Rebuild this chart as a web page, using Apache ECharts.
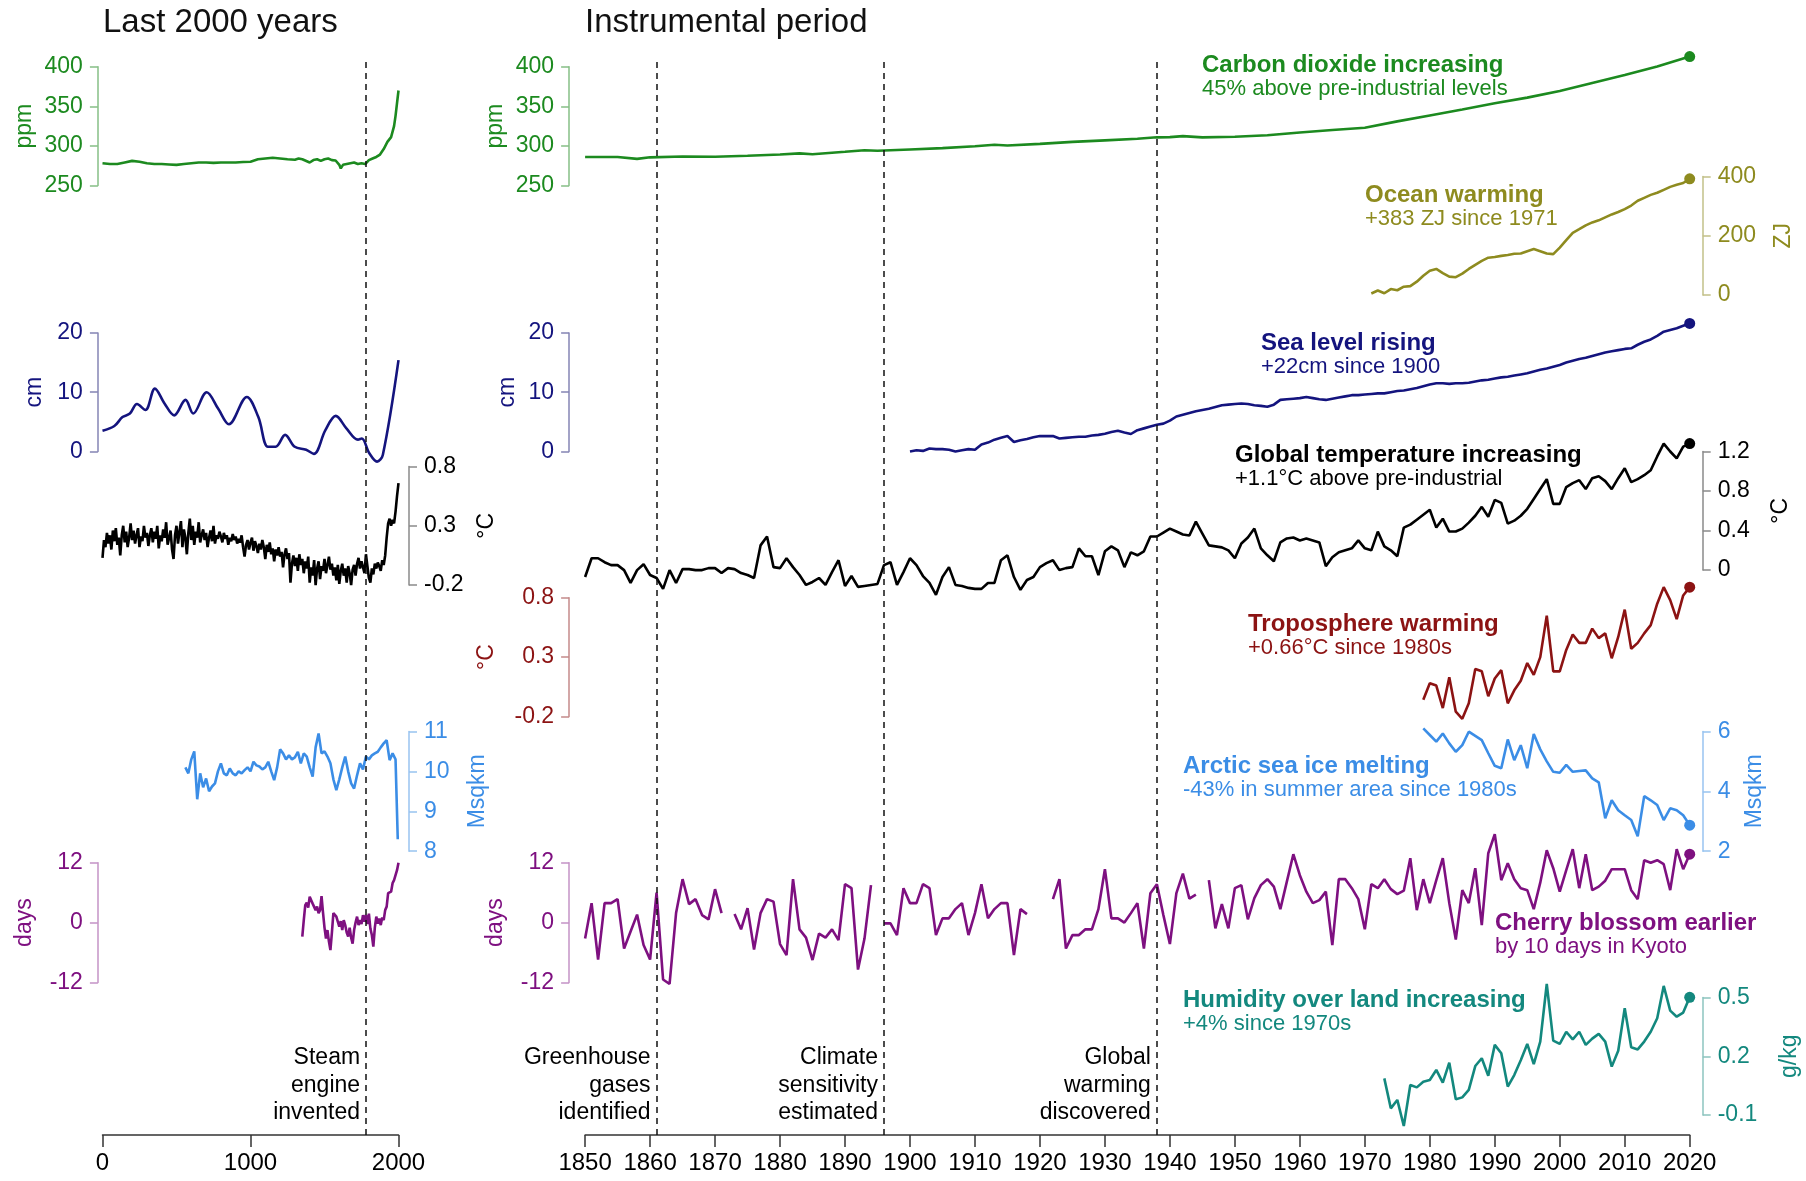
<!DOCTYPE html>
<html>
<head>
<meta charset="utf-8">
<title>Changing climate indicators</title>
<script src="https://cdn.jsdelivr.net/npm/echarts@6/dist/echarts.min.js"></script>
<style>
  html, body { margin: 0; padding: 0; background: #fff; }
  #chart { width: 1806px; height: 1181px; }
</style>
</head>
<body>
<div id="chart"></div>
<script>
// ---- data: last 2000 years (year, value pairs) ----
const co2LongYears = [0, 50, 100, 150, 200, 250, 300, 350, 400, 450, 500, 550, 600, 650, 700, 750, 800, 850, 900, 950, 1000, 1050, 1100, 1150, 1200, 1250, 1300, 1325, 1350, 1400, 1425, 1450, 1475, 1500, 1525, 1550, 1575, 1600, 1610, 1625, 1650, 1700, 1725, 1750, 1775, 1800, 1825, 1850, 1875, 1900, 1925, 1950, 1970, 1980, 1990, 2000];
const co2LongVals = [278, 277, 277, 279, 281, 280, 278, 277, 277, 276.5, 276, 277, 278, 279, 279, 278.5, 279, 279, 279, 279.5, 280, 283, 284, 285, 284, 283, 282.5, 284, 283, 279, 282, 283, 281, 283, 284, 282, 281.5, 276, 271.5, 276, 277, 279, 277, 278, 277, 282, 284, 286, 289, 296, 305, 311, 325, 338, 354, 370];

const seaLongYears = [0, 80, 135, 185, 233, 290, 354, 419, 484, 561, 613, 704, 782, 854, 975, 1053, 1118, 1170, 1234, 1299, 1376, 1428, 1506, 1576, 1648, 1726, 1752, 1803, 1855, 1894, 2000];
const seaLongVals = [3.5, 4.3, 5.8, 6.4, 8.0, 7.0, 10.6, 8.1, 6.1, 8.7, 6.4, 10.0, 7.2, 4.6, 9.2, 5.8, 0.8, 0.8, 2.8, 0.8, 0.3, -0.4, 3.6, 6.0, 3.9, 2.0, 2.2, -0.3, -1.7, -0.6, 15.4];

// temperature every 10 years from year 0 to 2000
const tempLongStep = 10;
const tempLongVals = [
  0.03, 0.18, 0.12, 0.24, 0.15, 0.22, 0.10, 0.26, 0.17, 0.28,
  0.14, 0.20, 0.05, 0.22, 0.30, 0.16, 0.25, 0.12, 0.20, 0.32,
  0.18, 0.26, 0.15, 0.22, 0.28, 0.12, 0.21, 0.17, 0.30, 0.20,
  0.24, 0.13, 0.22, 0.28, 0.16, 0.25, 0.19, 0.30, 0.11, 0.22,
  0.17, 0.27, 0.20, 0.33, 0.14, 0.20, 0.26, 0.10, 0.02, 0.22,
  0.30, 0.15, 0.25, 0.34, 0.12, 0.27, 0.20, 0.06, 0.24, 0.36,
  0.18, 0.30, 0.14, 0.25, 0.20, 0.33, 0.16, 0.22, 0.27, 0.18,
  0.24, 0.12, 0.20, 0.26, 0.17, 0.30, 0.15, 0.22, 0.19, 0.25,
  0.21, 0.16, 0.24, 0.19, 0.22, 0.14, 0.20, 0.17, 0.23, 0.18,
  0.21, 0.15, 0.19, 0.16, 0.22, 0.12, 0.04, 0.14, 0.18, 0.10,
  0.16, 0.20, 0.09, 0.17, 0.13, 0.07, 0.15, 0.10, 0.18, 0.12,
  0.02, 0.14, 0.08, 0.16, 0.06, 0.11, 0.00, 0.10, 0.05, 0.12,
  0.04, 0.08, -0.05, 0.06, 0.11, 0.02, 0.07, -0.18, -0.02, 0.05,
  -0.04, 0.03, -0.08, 0.06, -0.03, 0.02, -0.10, 0.00, -0.06, 0.04,
  -0.18, -0.05, -0.12, 0.01, -0.20, -0.06, 0.00, -0.15, -0.04, -0.08,
  0.02, -0.10, -0.03, 0.04, -0.07, -0.02, -0.12, -0.05, -0.16, -0.03,
  -0.19, -0.08, -0.02, -0.12, -0.06, -0.18, -0.04, -0.10, -0.20, -0.07,
  -0.03, -0.12, -0.02, 0.03, -0.06, 0.00, -0.05, -0.10, 0.06, -0.04,
  -0.14, -0.18, -0.06, -0.11, -0.02, -0.06, -0.01, -0.04, -0.08, 0.01,
  -0.03, 0.05, 0.20, 0.32, 0.36, 0.30, 0.35, 0.32, 0.42, 0.55,
  0.66
];

const iceLongYears = [560, 580, 600, 620, 640, 660, 680, 700, 720, 740, 760, 780, 800, 820, 840, 860, 880, 900, 920, 940, 960, 980, 1000, 1020, 1040, 1060, 1080, 1100, 1120, 1140, 1160, 1180, 1200, 1220, 1240, 1260, 1280, 1300, 1320, 1340, 1360, 1380, 1400, 1420, 1440, 1460, 1480, 1500, 1520, 1540, 1560, 1580, 1600, 1620, 1640, 1660, 1680, 1700, 1720, 1740, 1760, 1780, 1800, 1820, 1840, 1860, 1880, 1900, 1920, 1940, 1960, 1980, 1995];
const iceLongVals = [10.1, 9.95, 10.3, 10.5, 9.3, 9.95, 9.6, 9.82, 9.5, 9.62, 9.7, 10.0, 10.2, 9.95, 9.9, 10.07, 9.95, 9.9, 10.0, 9.95, 10.03, 10.1, 10.0, 10.24, 10.15, 10.12, 10.05, 10.1, 10.24, 10.0, 9.78, 10.1, 10.55, 10.45, 10.3, 10.4, 10.3, 10.35, 10.49, 10.2, 10.45, 10.37, 10.1, 9.87, 10.6, 10.95, 10.45, 10.5, 10.37, 10.2, 9.8, 9.53, 9.8, 10.1, 10.37, 10.0, 9.7, 9.57, 9.9, 10.2, 10.05, 10.37, 10.3, 10.4, 10.45, 10.49, 10.6, 10.7, 10.78, 10.28, 10.45, 10.3, 8.3];

const cherryLongYears = [1350, 1360, 1370, 1380, 1390, 1400, 1410, 1420, 1430, 1440, 1450, 1460, 1470, 1480, 1490, 1500, 1510, 1520, 1530, 1540, 1550, 1560, 1570, 1580, 1590, 1600, 1610, 1620, 1630, 1640, 1650, 1660, 1670, 1680, 1690, 1700, 1710, 1720, 1730, 1740, 1750, 1760, 1770, 1780, 1790, 1800, 1810, 1820, 1830, 1840, 1850, 1860, 1870, 1880, 1890, 1900, 1910, 1920, 1930, 1940, 1950, 1960, 1970, 1980, 1990, 2000];
const cherryLongVals = [-2.8, 0.5, 3.5, 4.0, 3.0, 5.2, 4.5, 3.8, 4.2, 2.5, 3.2, 1.9, 2.5, 5.3, 2.0, -1.0, -3.2, -1.5, -3.8, -5.5, -2.0, 1.9, 1.5, 1.2, 0.2, -0.8, 0.3, -1.5, 0.5, -0.5, -2.0, -2.8, -1.0, -3.0, -4.2, -1.5, 0.0, 1.2, -0.5, 0.5, -0.3, 1.5, 0.2, 1.5, -0.3, 1.8, -1.2, -2.5, -4.8, -1.0, 1.2, -0.2, 0.8, -0.5, 1.0, 0.5, 2.5, 3.2, 5.9, 5.5, 6.2, 7.9, 8.5, 9.5, 10.5, 12.0];

// ---- data: instrumental period ----
const co2Years = [1850, 1855, 1858, 1860, 1865, 1870, 1875, 1880, 1883, 1885, 1890, 1893, 1895, 1900, 1905, 1910, 1913, 1915, 1920, 1925, 1930, 1935, 1938, 1940, 1942, 1945, 1950, 1955, 1960, 1965, 1970, 1975, 1980, 1985, 1990, 1995, 2000, 2005, 2010, 2015, 2020];
const co2Vals = [286, 285.9, 283.6, 285.5, 286.5, 286.2, 287.5, 289, 290.5, 289.3, 292.5, 294.5, 293.8, 295.5, 297.2, 299.5, 301.5, 300.5, 302.5, 305, 307, 309, 310.8, 311, 312.3, 310.8, 311.5, 313.5, 317, 320, 323, 331, 338.5, 346, 354, 361, 369.5, 379.5, 389.5, 400.5, 413];

const oceanStart = 1971;
const oceanVals = [
  5, 15, 6, 20, 16, 28, 30, 45, 65,
  82, 88, 74, 62, 60, 72, 88, 102, 115, 126,
  128, 132, 135, 139, 140, 148, 155, 148, 140, 138,
  160, 185, 210, 222, 235, 245, 252, 262, 272, 280,
  290, 302, 318, 328, 338, 345, 355, 365, 372, 378,
  392
];

const seaStart = 1900;
const seaVals = [
  0.0, 0.2, 0.1, 0.5, 0.4, 0.4, 0.3, 0.0, 0.2, 0.4,
  0.3, 1.2, 1.5, 2.0, 2.3, 2.6, 1.6, 1.9, 2.1, 2.4,
  2.6, 2.6, 2.6, 2.2, 2.3, 2.4, 2.5, 2.5, 2.7, 2.8,
  3.0, 3.3, 3.5, 3.2, 2.95, 3.6, 3.9, 4.2, 4.5, 4.7,
  5.2, 5.9, 6.2, 6.5, 6.8, 7.0, 7.2, 7.5, 7.8, 7.9,
  8.0, 8.1, 8.0, 7.8, 7.7, 7.55, 7.9, 8.7, 8.8, 8.9,
  9.0, 9.2, 9.0, 8.8, 8.7, 8.9, 9.1, 9.3, 9.5, 9.5,
  9.6, 9.7, 9.8, 9.8, 10.0, 10.2, 10.3, 10.5, 10.7, 11.0,
  11.3, 11.5, 11.5, 11.4, 11.5, 11.5, 11.6, 11.8, 12.0, 12.1,
  12.3, 12.5, 12.6, 12.8, 13.0, 13.2, 13.5, 13.8, 14.0, 14.3,
  14.6, 15.0, 15.3, 15.6, 15.8, 16.1, 16.4, 16.7, 16.9, 17.1,
  17.3, 17.4, 18.0, 18.5, 18.9, 19.5, 20.2, 20.5, 20.8, 21.2,
  21.6
];

const tempStart = 1850;
const tempVals = [
  -0.07, 0.12, 0.12, 0.08, 0.05, 0.05, 0.00, -0.13, 0.00, 0.06,
  -0.05, -0.08, -0.19, 0.00, -0.13, 0.01, 0.01, 0.00, 0.00, 0.02,
  0.02, -0.03, 0.02, 0.01, -0.03, -0.05, -0.08, 0.25, 0.34, 0.03,
  0.02, 0.12, 0.03, -0.05, -0.15, -0.12, -0.08, -0.15, -0.02, 0.10,
  -0.16, -0.06, -0.17, -0.16, -0.15, -0.14, 0.05, 0.08, -0.15, -0.02,
  0.12, 0.05, -0.06, -0.13, -0.25, -0.07, 0.03, -0.15, -0.16, -0.18,
  -0.19, -0.19, -0.13, -0.13, 0.10, 0.15, -0.07, -0.20, -0.10, -0.07,
  0.03, 0.07, 0.10, 0.00, 0.02, 0.03, 0.22, 0.14, 0.14, -0.05,
  0.19, 0.24, 0.20, 0.03, 0.18, 0.15, 0.19, 0.34, 0.34, 0.38,
  0.42, 0.39, 0.36, 0.35, 0.49, 0.37, 0.25, 0.24, 0.23, 0.20,
  0.12, 0.27, 0.33, 0.42, 0.22, 0.15, 0.09, 0.28, 0.32, 0.33,
  0.30, 0.32, 0.30, 0.28, 0.04, 0.13, 0.18, 0.20, 0.22, 0.30,
  0.22, 0.20, 0.39, 0.24, 0.20, 0.14, 0.43, 0.46, 0.51, 0.56,
  0.61, 0.43, 0.52, 0.39, 0.39, 0.42, 0.48, 0.55, 0.64, 0.54,
  0.71, 0.68, 0.47, 0.50, 0.55, 0.62, 0.72, 0.82, 0.92, 0.67,
  0.67, 0.84, 0.88, 0.91, 0.82, 0.93, 0.95, 0.90, 0.82, 0.93,
  1.03, 0.89, 0.92, 0.96, 1.01, 1.15, 1.28, 1.20, 1.13, 1.25,
  1.28
];

const tropoStart = 1979;
const tropoVals = [
  -0.06,
  0.08, 0.06, -0.13, 0.13, -0.16, -0.22, -0.09, 0.20, 0.18, -0.03,
  0.12, 0.19, -0.09, 0.02, 0.10, 0.25, 0.15, 0.30, 0.65, 0.18,
  0.18, 0.36, 0.49, 0.42, 0.42, 0.54, 0.46, 0.50, 0.29, 0.47,
  0.70, 0.37, 0.42, 0.50, 0.57, 0.75, 0.89, 0.78, 0.62, 0.82,
  0.89
];

const iceStart = 1979;
const iceVals = [
  6.1,
  5.88, 5.66, 5.93, 5.6, 5.32, 5.54, 5.99, 5.85, 5.71, 5.27,
  4.85, 4.77, 5.73, 5.04, 5.54, 4.77, 5.91, 5.4, 5.0, 4.65,
  4.62, 4.88, 4.65, 4.68, 4.7, 4.43, 4.3, 3.1, 3.7, 3.37,
  3.2, 3.04, 2.5, 3.84, 3.7, 3.54, 3.04, 3.43, 3.37, 3.2,
  2.87
];

const cherryStart = 1850;
const cherryVals = [
  -3.2, 3.9, -7.4, 3.9, 3.9, 4.7, -5.2, -1.8, 1.6, -4.5,
  -7.4, 6.0, -11.4, -12.3, 1.9, 8.7, 3.7, 4.7, 1.5, 0.65,
  6.7, 1.9, null, 1.7, -1.35, 2.9, -5.4, 1.9, 4.7, 4.2,
  -4.3, -6.5, 8.7, -1.35, -3.0, -7.5, -2.2, -3.0, -1.35, -3.5,
  7.7, 6.9, -9.4, -3.2, 7.5, null, -0.15, -0.15, -2.5, 6.9,
  3.9, 3.9, 7.7, 6.9, -2.5, 0.85, 0.85, 2.7, 3.9, -2.5,
  1.9, 7.7, 0.85, 2.7, 3.9, 3.9, -6.5, 2.7, 1.7, null,
  null, null, 4.7, 8.7, -5.2, -2.5, -2.5, -1.35, -1.35, 2.7,
  10.7, 0.85, 0.85, 0.0, 1.9, 3.9, -5.2, 5.9, 7.7, 1.5,
  -4.3, 5.9, 9.8, 4.8, 5.6, null, 8.5, -1.15, 3.7, -1.15,
  6.9, 7.5, 0.65, 4.9, 7.5, 8.7, 7.2, 2.7, 8.2, 13.7,
  9.5, 6.2, 3.9, 4.5, 6.2, -4.5, 8.7, 8.7, 6.9, 4.7,
  -1.35, 7.7, 6.9, 8.7, 6.7, 5.7, 6.4, 12.9, 2.5, 8.7,
  3.9, 8.5, 12.9, 3.9, -3.4, 6.5, 3.9, 10.9, -0.5, 13.9,
  17.7, 8.5, 11.9, 8.7, 6.9, 6.5, 2.7, 8.0, 14.5, 10.9,
  6.2, 10.5, 14.7, 6.9, 13.7, 6.5, 7.2, 8.4, 10.7, 10.7,
  10.7, 6.5, 4.7, 12.5, 12.0, 12.5, 11.7, 6.5, 14.7, 10.7,
  13.7
];

const humidStart = 1973;
const humidVals = [
  0.087, -0.066, -0.023, -0.156, 0.053, 0.041, 0.07,
  0.079, 0.13, 0.065, 0.167, -0.02, -0.01, 0.028, 0.15, 0.19, 0.1,
  0.258, 0.215, 0.045, 0.104, 0.18, 0.263, 0.16, 0.275, 0.569, 0.28,
  0.263, 0.325, 0.286, 0.325, 0.258, 0.29, 0.314, 0.275, 0.147, 0.228,
  0.445, 0.246, 0.235, 0.275, 0.325, 0.394, 0.559, 0.433, 0.402, 0.423,
  0.501
];

const leftEvents = [{ year: 1781, text: 'Steam\nengine\ninvented' }];
const rightEvents = [
  { year: 1861, text: 'Greenhouse\ngases\nidentified' },
  { year: 1896, text: 'Climate\nsensitivity\nestimated' },
  { year: 1938, text: 'Global\nwarming\ndiscovered' }
];

// ---- helpers ----
const pairs = (xs, vs) => xs.map((x, i) => [x, vs[i]]);
const annual = (start, vs) => vs.map((v, i) => [start + i, v]);
const everyN = (step, vs) => vs.map((v, i) => [i * step, v]);

const FONT = '"Liberation Sans", Arial, Helvetica, sans-serif';
const C = {
  green: '#1c8a1f', olive: '#8e8b1f', navy: '#14147e', black: '#000000',
  red: '#8c1313', blue: '#3b8de6', purple: '#7e1080', teal: '#13887e'
};
const AX = {
  green: '#86bf86', olive: '#c2c088', navy: '#8484b4', black: '#8a8a8a',
  red: '#c48a8a', blue: '#98c3f0', purple: '#c493c6', teal: '#8cc4bf'
};

const LEFT = { left: 102.5, width: 296, min: 0, max: 2000, step: 1000 };
const RIGHT = { left: 585.1, width: 1104.6, min: 1850, max: 2020, step: 10 };
const EVENT_Y = 0.046;

const grids = [], xAxes = [], yAxes = [], series = [];

function addIndicator(p) {
  const idx = grids.length;
  grids.push({ left: p.panel.left, width: p.panel.width, top: p.top, height: p.height, outerBoundsMode: 'none' });
  xAxes.push({ type: 'value', gridIndex: idx, min: p.panel.min, max: p.panel.max, show: false });
  yAxes.push({
    type: 'value', gridIndex: idx, min: p.min, max: p.max, interval: p.step,
    position: p.side, offset: p.offset,
    name: p.unit, nameLocation: 'middle', nameRotate: 90, nameGap: p.nameGap, nameMoveOverlap: false,
    nameTextStyle: { color: C[p.c], fontSize: 23, fontFamily: FONT },
    axisLine: { show: true, onZero: false, lineStyle: { color: AX[p.c], width: 1.5 } },
    axisTick: { show: true, length: 8, lineStyle: { color: AX[p.c], width: 1.5 } },
    axisLabel: { color: C[p.c], fontSize: 23, fontFamily: FONT, margin: 15 },
    splitLine: { show: false }
  });
  series.push({
    type: 'line', xAxisIndex: idx, yAxisIndex: idx, data: p.data, showSymbol: false,
    clip: false, smooth: p.smooth || false, connectNulls: false,
    lineStyle: { color: C[p.c], width: 2.6 }, z: 3, silent: true
  });
  if (p.dot) {
    series.push({
      type: 'scatter', xAxisIndex: idx, yAxisIndex: idx, data: [p.data[p.data.length - 1]],
      symbolSize: 11, itemStyle: { color: C[p.c], opacity: 1 }, z: 4, clip: false, silent: true
    });
  }
}

function addBase(panel, events) {
  const idx = grids.length;
  grids.push({ left: panel.left, width: panel.width, top: 57, height: 1078, outerBoundsMode: 'none' });
  xAxes.push({
    type: 'value', gridIndex: idx, min: panel.min, max: panel.max, interval: panel.step, position: 'bottom',
    axisLine: { show: true, onZero: false, lineStyle: { color: '#333', width: 1.5 } },
    axisTick: { show: true, length: 12, lineStyle: { color: '#333', width: 1.5 } },
    axisLabel: { color: '#000', fontSize: 24, fontFamily: FONT, margin: 16, formatter: v => String(v) },
    splitLine: { show: false }
  });
  yAxes.push({ type: 'value', gridIndex: idx, min: 0, max: 1, show: false });
  series.push({
    type: 'scatter', xAxisIndex: idx, yAxisIndex: idx, symbolSize: 0, silent: true,
    itemStyle: { color: '#000', opacity: 1 },
    data: events.map(e => ({ value: [e.year, EVENT_Y], name: e.text })),
    label: {
      show: true, position: 'left', distance: 6, formatter: q => q.name,
      color: '#000', opacity: 1, fontSize: 23, lineHeight: 27.5, fontFamily: FONT, align: 'right'
    },
    markLine: {
      silent: true, symbol: 'none', label: { show: false },
      lineStyle: { color: '#111', type: [6, 5], width: 1.5 },
      data: events.map(e => ({ xAxis: e.year }))
    },
    z: 1
  });
}

addBase(LEFT, leftEvents);
addBase(RIGHT, rightEvents);

// last 2000 years
addIndicator({ panel: LEFT, top: 66.8, height: 118.6, min: 250, max: 400, step: 50, side: 'left', offset: 4.6, unit: 'ppm', nameGap: 62, c: 'green', data: pairs(co2LongYears, co2LongVals) });
addIndicator({ panel: LEFT, top: 332.9, height: 118.6, min: 0, max: 20, step: 10, side: 'left', offset: 4.6, unit: 'cm', nameGap: 52, c: 'navy', data: pairs(seaLongYears, seaLongVals), smooth: 0.35 });
addIndicator({ panel: LEFT, top: 466.5, height: 118.6, min: -0.2, max: 0.8, step: 0.5, side: 'right', offset: 10.5, unit: '°C', nameGap: 66, c: 'black', data: everyN(tempLongStep, tempLongVals) });
addIndicator({ panel: LEFT, top: 731.4, height: 119.8, min: 8, max: 11, step: 1, side: 'right', offset: 10.5, unit: 'Msqkm', nameGap: 57, c: 'blue', data: pairs(iceLongYears, iceLongVals) });
addIndicator({ panel: LEFT, top: 862.7, height: 119.8, min: -12, max: 12, step: 12, side: 'left', offset: 4.6, unit: 'days', nameGap: 62, c: 'purple', data: pairs(cherryLongYears, cherryLongVals) });

// instrumental period
addIndicator({ panel: RIGHT, top: 66.8, height: 118.6, min: 250, max: 400, step: 50, side: 'left', offset: 16, unit: 'ppm', nameGap: 62, c: 'green', data: pairs(co2Years, co2Vals), dot: true });
addIndicator({ panel: RIGHT, top: 176.5, height: 118.5, min: 0, max: 400, step: 200, side: 'right', offset: 13, unit: 'ZJ', nameGap: 69, c: 'olive', data: annual(oceanStart, oceanVals), dot: true });
addIndicator({ panel: RIGHT, top: 332.9, height: 118.6, min: 0, max: 20, step: 10, side: 'left', offset: 16, unit: 'cm', nameGap: 50, c: 'navy', data: annual(seaStart, seaVals), dot: true });
addIndicator({ panel: RIGHT, top: 451.5, height: 118.6, min: 0, max: 1.2, step: 0.4, side: 'right', offset: 13, unit: '°C', nameGap: 66, c: 'black', data: annual(tempStart, tempVals), dot: true });
addIndicator({ panel: RIGHT, top: 597.8, height: 118.6, min: -0.2, max: 0.8, step: 0.5, side: 'left', offset: 16, unit: '°C', nameGap: 71, c: 'red', data: annual(tropoStart, tropoVals), dot: true });
addIndicator({ panel: RIGHT, top: 731.4, height: 119.8, min: 2, max: 6, step: 2, side: 'right', offset: 13, unit: 'Msqkm', nameGap: 40, c: 'blue', data: annual(iceStart, iceVals), dot: true });
addIndicator({ panel: RIGHT, top: 862.7, height: 119.8, min: -12, max: 12, step: 12, side: 'left', offset: 16, unit: 'days', nameGap: 62, c: 'purple', data: annual(cherryStart, cherryVals), dot: true });
addIndicator({ panel: RIGHT, top: 997.5, height: 117.5, min: -0.1, max: 0.5, step: 0.3, side: 'right', offset: 13, unit: 'g/kg', nameGap: 75, c: 'teal', data: annual(humidStart, humidVals), dot: true });

// annotation texts
const notes = [
  { x: 1202, y: 65, c: 'green', title: 'Carbon dioxide increasing', sub: '45% above pre-industrial levels' },
  { x: 1365, y: 195, c: 'olive', title: 'Ocean warming', sub: '+383 ZJ since 1971' },
  { x: 1261, y: 343, c: 'navy', title: 'Sea level rising', sub: '+22cm since 1900' },
  { x: 1235, y: 455, c: 'black', title: 'Global temperature increasing', sub: '+1.1°C above pre-industrial' },
  { x: 1248, y: 624, c: 'red', title: 'Troposphere warming', sub: '+0.66°C since 1980s' },
  { x: 1183, y: 766, c: 'blue', title: 'Arctic sea ice melting', sub: '-43% in summer area since 1980s' },
  { x: 1495, y: 923, c: 'purple', title: 'Cherry blossom earlier', sub: 'by 10 days in Kyoto' },
  { x: 1183, y: 1000, c: 'teal', title: 'Humidity over land increasing', sub: '+4% since 1970s' }
];

const graphic = [
  { type: 'text', x: 103, y: 23, style: { text: 'Last 2000 years', fill: '#111', font: '33px ' + FONT, verticalAlign: 'middle' } },
  { type: 'text', x: 585, y: 23, style: { text: 'Instrumental period', fill: '#111', font: '33px ' + FONT, verticalAlign: 'middle' } }
];
notes.forEach(n => {
  graphic.push({ type: 'text', x: n.x, y: n.y, z: 10, style: { text: n.title, fill: C[n.c], font: 'bold 24px ' + FONT, verticalAlign: 'middle' } });
  graphic.push({ type: 'text', x: n.x, y: n.y + 23.5, z: 10, style: { text: n.sub, fill: C[n.c], font: '22px ' + FONT, verticalAlign: 'middle' } });
});

const chart = echarts.init(document.getElementById('chart'), null, { renderer: 'canvas' });
chart.setOption({
  backgroundColor: '#ffffff',
  animation: false,
  textStyle: { fontFamily: FONT },
  grid: grids,
  xAxis: xAxes,
  yAxis: yAxes,
  series: series,
  graphic: graphic
});
</script>
</body>
</html>
